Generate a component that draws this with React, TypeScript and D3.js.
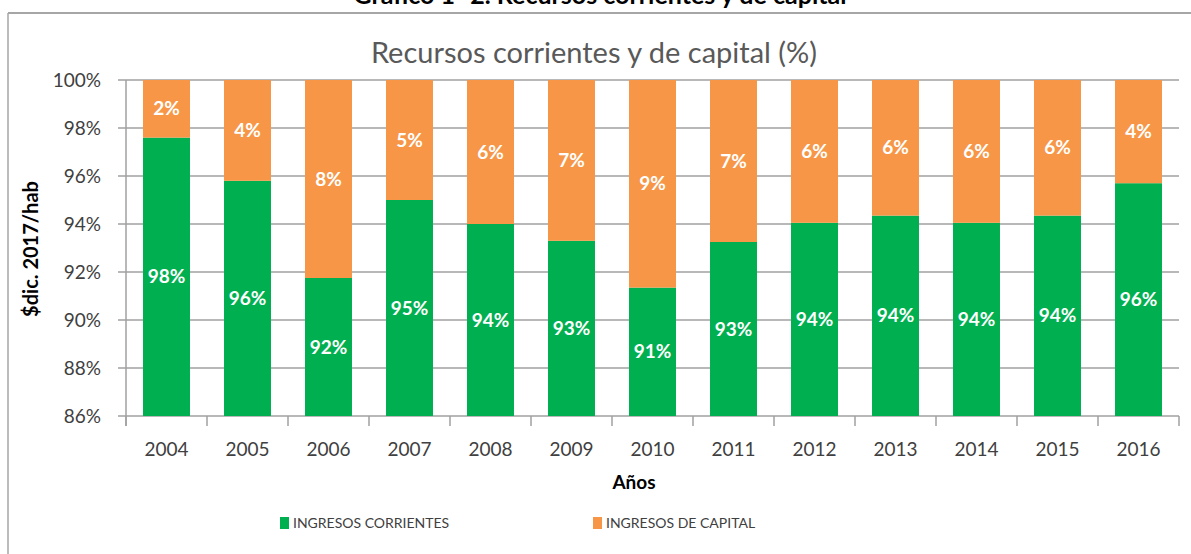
import React, { useEffect, useRef } from 'react'
import * as d3 from 'd3'

const years = ['2004', '2005', '2006', '2007', '2008', '2009', '2010', '2011', '2012', '2013', '2014', '2015', '2016']
const corrientes = [97.6, 95.8, 91.75, 95.0, 94.0, 93.3, 91.35, 93.25, 94.05, 94.35, 94.05, 94.35, 95.7]
const capital = [2.4, 4.2, 8.25, 5.0, 6.0, 6.7, 8.65, 6.75, 5.95, 5.65, 5.95, 5.65, 4.3]
const yTicks = [86, 88, 90, 92, 94, 96, 98, 100]
const seriesNames = ['INGRESOS CORRIENTES', 'INGRESOS DE CAPITAL']

const GREEN = '#00b050'
const ORANGE = '#f79646'
const FONT = 'Lato, "Open Sans", sans-serif'

const App = () => {
  const svgRef = useRef<SVGSVGElement>(null)

  useEffect(() => {
    const svg = d3.select(svgRef.current)
    svg.selectAll('*').remove()

    const width = 1191
    const height = 554
    svg.attr('width', width).attr('height', height)

    // plot area
    const left = 126
    const right = 1179
    const top = 80
    const bottom = 416

    const x = d3.scaleBand<string>().domain(years).range([left, right]).paddingInner(0.42).paddingOuter(0.21)
    const y = d3.scaleLinear().domain([86, 100]).range([bottom, top])

    svg.append('rect').attr('width', width).attr('height', height).attr('fill', '#fff')

    // frame of the chart + header cut by the crop
    svg.append('line').attr('x1', 8).attr('x2', width).attr('y1', 13).attr('y2', 13)
      .attr('stroke', '#a6a6a6').attr('stroke-width', 2)
    svg.append('line').attr('x1', 8).attr('x2', 8).attr('y1', 13).attr('y2', height)
      .attr('stroke', '#a6a6a6').attr('stroke-width', 1.5)
    svg.append('text')
      .attr('x', 600).attr('y', 4)
      .attr('text-anchor', 'middle')
      .attr('font-family', FONT).attr('font-weight', 700).attr('font-size', 25)
      .attr('fill', '#000')
      .text('Gráfico 1- 2. Recursos corrientes y de capital')

    svg.append('text')
      .attr('x', 594).attr('y', 63)
      .attr('text-anchor', 'middle')
      .attr('font-family', FONT).attr('font-size', 29)
      .attr('fill', '#595959')
      .text('Recursos corrientes y de capital (%)')

    // gridlines
    svg.append('g')
      .selectAll('line')
      .data(yTicks)
      .join('line')
      .attr('x1', left - 8).attr('x2', right)
      .attr('y1', d => y(d)).attr('y2', d => y(d))
      .attr('stroke', '#a0a0a0').attr('stroke-width', 1.5)

    // y axis line + labels
    svg.append('line').attr('x1', left).attr('x2', left).attr('y1', top).attr('y2', bottom + 10)
      .attr('stroke', '#a0a0a0').attr('stroke-width', 1.5)
    svg.append('g')
      .selectAll('text')
      .data(yTicks)
      .join('text')
      .attr('x', 101).attr('y', d => y(d))
      .attr('dy', '0.35em')
      .attr('text-anchor', 'end')
      .attr('font-family', FONT).attr('font-size', 19)
      .attr('fill', '#404040')
      .text(d => d + '%')

    // x ticks at category boundaries
    const step = x.step()
    const bounds = d3.range(years.length + 1).map(i => left + i * step)
    svg.append('g')
      .selectAll('line')
      .data(bounds)
      .join('line')
      .attr('x1', d => d).attr('x2', d => d)
      .attr('y1', bottom).attr('y2', bottom + 10)
      .attr('stroke', '#a0a0a0').attr('stroke-width', 1.5)

    svg.append('g')
      .selectAll('text')
      .data(years)
      .join('text')
      .attr('x', d => x(d) + x.bandwidth() / 2).attr('y', 449)
      .attr('dy', '0.35em')
      .attr('text-anchor', 'middle')
      .attr('font-family', FONT).attr('font-size', 19)
      .attr('fill', '#404040')
      .text(d => d)

    // bars
    const bars = svg.append('g')
    bars.selectAll('rect.c')
      .data(years)
      .join('rect')
      .attr('class', 'c')
      .attr('x', d => x(d)).attr('width', x.bandwidth())
      .attr('y', (d, i) => y(corrientes[i]))
      .attr('height', (d, i) => bottom - y(corrientes[i]))
      .attr('fill', GREEN)
    bars.selectAll('rect.k')
      .data(years)
      .join('rect')
      .attr('class', 'k')
      .attr('x', d => x(d)).attr('width', x.bandwidth())
      .attr('y', (d, i) => y(corrientes[i] + capital[i]))
      .attr('height', (d, i) => y(corrientes[i]) - y(corrientes[i] + capital[i]))
      .attr('fill', ORANGE)

    // data labels, centred on visible part of each segment
    const labels = svg.append('g')
      .attr('font-family', FONT).attr('font-weight', 700).attr('font-size', 19)
      .attr('fill', '#fff').attr('text-anchor', 'middle')
    labels.selectAll('text.c')
      .data(years)
      .join('text')
      .attr('class', 'c')
      .attr('x', d => x(d) + x.bandwidth() / 2)
      .attr('y', (d, i) => (bottom + y(corrientes[i])) / 2)
      .attr('dy', '0.35em')
      .text((d, i) => Math.round(corrientes[i]) + '%')
    labels.selectAll('text.k')
      .data(years)
      .join('text')
      .attr('class', 'k')
      .attr('x', d => x(d) + x.bandwidth() / 2)
      .attr('y', (d, i) => (y(corrientes[i]) + y(corrientes[i] + capital[i])) / 2)
      .attr('dy', '0.35em')
      .text((d, i) => Math.round(capital[i]) + '%')

    // axis titles
    svg.append('text')
      .attr('x', 634).attr('y', 482)
      .attr('dy', '0.35em')
      .attr('text-anchor', 'middle')
      .attr('font-family', FONT).attr('font-weight', 700).attr('font-size', 19)
      .attr('fill', '#000')
      .text('Años')
    svg.append('text')
      .attr('transform', 'translate(31,249) rotate(-90)')
      .attr('dy', '0.35em')
      .attr('text-anchor', 'middle')
      .attr('font-family', FONT).attr('font-weight', 700).attr('font-size', 20)
      .attr('fill', '#000')
      .text('$dic. 2017/hab')

    // legend
    const legendX = [280, 593]
    const legend = svg.append('g')
    seriesNames.forEach((name, i) => {
      legend.append('rect')
        .attr('x', legendX[i]).attr('y', 517).attr('width', 9).attr('height', 12)
        .attr('fill', i === 0 ? GREEN : ORANGE)
      legend.append('text')
        .attr('x', legendX[i] + 13).attr('y', 523)
        .attr('dy', '0.35em')
        .attr('font-family', FONT).attr('font-size', 14)
        .attr('fill', '#404040')
        .text(name)
    })
  }, [])

  return <svg ref={svgRef} style={{ position: 'absolute', left: 0, top: 0 }} />
}

export default App
